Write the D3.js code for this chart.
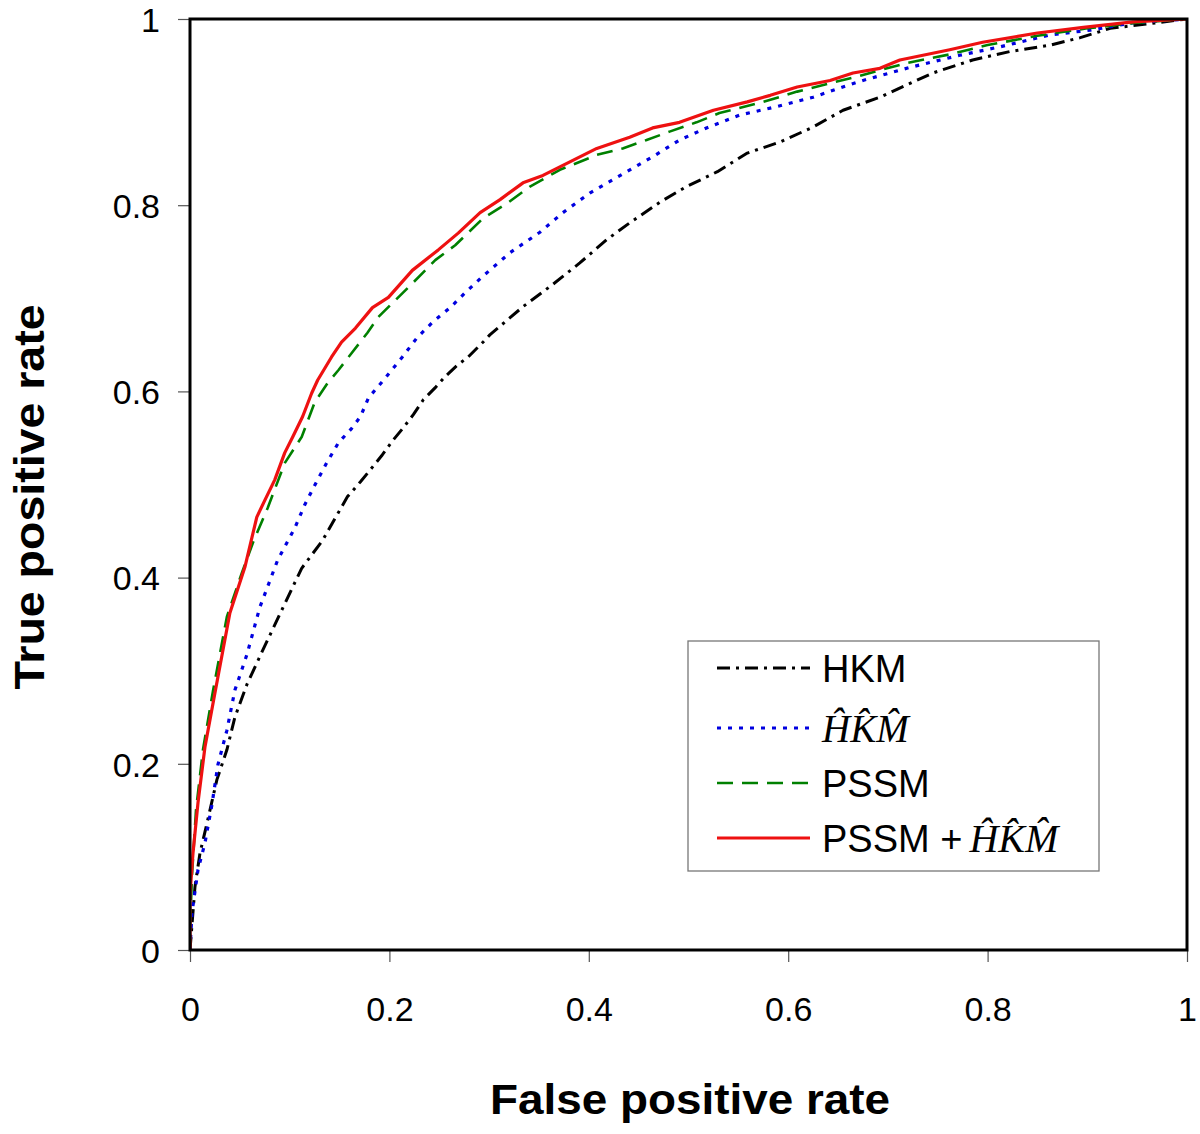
<!DOCTYPE html>
<html>
<head>
<meta charset="utf-8">
<script src="https://cdn.jsdelivr.net/npm/d3@7"></script>
<style>
  html, body { margin: 0; padding: 0; background: #fff; }
  svg { display: block; }
</style>
</head>
<body>
<script>
// ---- Data ----
const xTicks = [0, 0.2, 0.4, 0.6, 0.8, 1];
const yTicks = [0, 0.2, 0.4, 0.6, 0.8, 1];
const xTickLabels = ["0", "0.2", "0.4", "0.6", "0.8", "1"];
const yTickLabels = ["0", "0.2", "0.4", "0.6", "0.8", "1"];
const seriesNames = ["HKM", "HKM_hat", "PSSM", "PSSM+HKM_hat"];

const hkmFpr = [0,0.005,0.010,0.017,0.027,0.037,0.045,0.057,0.073,0.092,0.112,0.133,0.143,0.158,0.171,0.181,0.193,0.204,0.214,0.224,0.234,0.246,0.256,0.268,0.279,0.294,0.301,0.334,0.364,0.391,0.418,0.441,0.471,0.498,0.529,0.559,0.592,0.625,0.655,0.692,0.745,0.785,0.822,0.863,0.893,0.923,0.963,1];
const hkmTpr = [0,0.068,0.104,0.136,0.183,0.215,0.250,0.285,0.322,0.365,0.410,0.440,0.459,0.487,0.503,0.516,0.532,0.548,0.561,0.575,0.591,0.604,0.616,0.628,0.637,0.653,0.661,0.691,0.715,0.738,0.763,0.781,0.803,0.820,0.836,0.856,0.868,0.884,0.902,0.916,0.942,0.956,0.965,0.972,0.980,0.990,0.995,1];

const hatFpr = [0,0.002,0.008,0.015,0.022,0.028,0.037,0.045,0.057,0.070,0.088,0.105,0.115,0.125,0.137,0.149,0.162,0.171,0.179,0.194,0.213,0.228,0.244,0.261,0.276,0.293,0.321,0.351,0.374,0.401,0.438,0.464,0.491,0.518,0.552,0.589,0.625,0.652,0.675,0.722,0.772,0.812,0.863,0.903,0.946,1];
const hatTpr = [0,0.040,0.086,0.115,0.156,0.199,0.236,0.279,0.317,0.368,0.419,0.453,0.478,0.499,0.523,0.545,0.560,0.573,0.593,0.612,0.637,0.658,0.675,0.690,0.706,0.723,0.749,0.771,0.792,0.813,0.836,0.852,0.870,0.883,0.897,0.906,0.916,0.926,0.934,0.948,0.961,0.970,0.983,0.988,0.996,1];

const pssmFpr = [0,0,0.002,0.006,0.013,0.023,0.037,0.052,0.064,0.078,0.095,0.112,0.125,0.138,0.149,0.162,0.178,0.189,0.206,0.223,0.246,0.266,0.294,0.318,0.341,0.371,0.408,0.434,0.458,0.481,0.508,0.531,0.575,0.609,0.642,0.669,0.692,0.720,0.762,0.800,0.850,0.900,0.950,1];
const pssmTpr = [0,0.020,0.080,0.150,0.215,0.278,0.358,0.405,0.440,0.475,0.523,0.551,0.588,0.609,0.623,0.641,0.663,0.680,0.698,0.716,0.741,0.757,0.786,0.802,0.820,0.838,0.854,0.861,0.870,0.879,0.889,0.899,0.911,0.922,0.931,0.938,0.945,0.953,0.962,0.972,0.982,0.990,0.996,1];

const bothFpr = [0,0,0.003,0.008,0.015,0.025,0.040,0.055,0.067,0.075,0.085,0.095,0.103,0.113,0.122,0.128,0.142,0.152,0.166,0.183,0.199,0.223,0.249,0.269,0.291,0.311,0.334,0.354,0.378,0.408,0.441,0.464,0.491,0.525,0.559,0.582,0.609,0.642,0.665,0.692,0.712,0.762,0.795,0.850,0.896,0.946,1];
const bothTpr = [0,0.060,0.104,0.158,0.218,0.276,0.362,0.411,0.465,0.483,0.505,0.534,0.551,0.573,0.598,0.612,0.637,0.653,0.668,0.690,0.701,0.730,0.752,0.770,0.792,0.806,0.824,0.832,0.845,0.861,0.873,0.883,0.889,0.902,0.911,0.918,0.927,0.934,0.942,0.947,0.956,0.967,0.975,0.985,0.991,0.997,1];

// ---- Styles ----
const styles = {
  "HKM":          { color: "#000000", dash: "13,6,3,6", width: 3 },
  "HKM_hat":      { color: "#0000e0", dash: "4,7",      width: 3.2 },
  "PSSM":         { color: "#008000", dash: "16,9",     width: 2.6 },
  "PSSM+HKM_hat": { color: "#ee1111", dash: null,       width: 3.2 }
};

const W = 1200, H = 1134;
const margin = { left: 190, top: 19, right: 13, bottom: 184 };
const svg = d3.select("body").append("svg").attr("width", W).attr("height", H);

const x = d3.scaleLinear().domain([0, 1]).range([margin.left, W - margin.right]);
const y = d3.scaleLinear().domain([0, 1]).range([H - margin.bottom, margin.top]);

const seriesData = [
  { name: "HKM", fpr: hkmFpr, tpr: hkmTpr },
  { name: "HKM_hat", fpr: hatFpr, tpr: hatTpr },
  { name: "PSSM", fpr: pssmFpr, tpr: pssmTpr },
  { name: "PSSM+HKM_hat", fpr: bothFpr, tpr: bothTpr }
];

svg.append("defs").append("clipPath").attr("id", "clip")
  .append("rect").attr("x", x(0)).attr("y", y(1)).attr("width", x(1) - x(0)).attr("height", y(0) - y(1));

const sans = "Arial, 'Liberation Sans', sans-serif";
const serif = "'Times New Roman', 'Liberation Serif', serif";

// Axes
const xAxis = d3.axisBottom(x).tickValues(xTicks).tickSize(12).tickFormat((d, i) => xTickLabels[i]);
const yAxis = d3.axisLeft(y).tickValues(yTicks).tickSize(12).tickFormat((d, i) => yTickLabels[i]);

const gx = svg.append("g").attr("transform", `translate(0,${y(0)})`).call(xAxis);
const gy = svg.append("g").attr("transform", `translate(${x(0)},0)`).call(yAxis);
[gx, gy].forEach(g => {
  g.select(".domain").remove();
  g.selectAll(".tick line").attr("stroke", "#555").attr("stroke-width", 1.2);
  g.selectAll(".tick text").attr("fill", "#000")
    .style("font-family", sans).style("font-size", "34px");
});
gx.selectAll(".tick text").attr("dy", null).attr("y", 0).attr("transform", "translate(0,71)");
gy.selectAll(".tick text").attr("x", -30).attr("dy", "0.36em");

// Lines
const line = d3.line().x(d => x(d[0])).y(d => y(d[1]));
const plot = svg.append("g").attr("clip-path", "url(#clip)");
seriesData.forEach(s => {
  const st = styles[s.name];
  const pts = s.fpr.map((f, i) => [f, s.tpr[i]]);
  plot.append("path").datum(pts).attr("d", line)
    .attr("fill", "none").attr("stroke", st.color).attr("stroke-width", st.width)
    .attr("stroke-dasharray", st.dash).attr("stroke-linejoin", "round");
});

// Plot frame
svg.append("rect").attr("x", x(0)).attr("y", y(1)).attr("width", x(1) - x(0)).attr("height", y(0) - y(1))
  .attr("fill", "none").attr("stroke", "#000").attr("stroke-width", 3);

// Axis titles
svg.append("text").attr("x", 690).attr("y", 1114).attr("text-anchor", "middle")
  .attr("textLength", 400).attr("lengthAdjust", "spacingAndGlyphs")
  .style("font-family", sans).style("font-weight", "bold").style("font-size", "42px")
  .text("False positive rate");
svg.append("text").attr("transform", `translate(44,497) rotate(-90)`).attr("text-anchor", "middle")
  .attr("textLength", 385).attr("lengthAdjust", "spacingAndGlyphs")
  .style("font-family", sans).style("font-weight", "bold").style("font-size", "42px")
  .text("True positive rate");

// Legend
const lg = svg.append("g");
lg.append("rect").attr("x", 688).attr("y", 641).attr("width", 411).attr("height", 230)
  .attr("fill", "#fff").attr("stroke", "#777").attr("stroke-width", 1.3);
const legendY = [668, 728, 783, 838];
const hat = "H\u0302K\u0302M\u0302";
seriesData.forEach((s, i) => {
  const st = styles[s.name];
  lg.append("line").attr("x1", 717).attr("x2", 810).attr("y1", legendY[i]).attr("y2", legendY[i])
    .attr("stroke", st.color).attr("stroke-width", st.width).attr("stroke-dasharray", st.dash);
  const t = lg.append("text").attr("x", 822).attr("y", legendY[i] + 14).style("font-size", "38px");
  if (s.name === "HKM") {
    t.style("font-family", sans).text("HKM");
  } else if (s.name === "HKM_hat") {
    t.style("font-family", serif).style("font-style", "italic").style("font-size", "39px").text(hat);
  } else if (s.name === "PSSM") {
    t.style("font-family", sans).text("PSSM");
  } else {
    t.style("font-family", sans);
    t.append("tspan").text("PSSM +");
    t.append("tspan").attr("dx", 7).style("font-family", serif).style("font-style", "italic").style("font-size", "40px").text(hat);
  }
});
</script>
</body>
</html>
